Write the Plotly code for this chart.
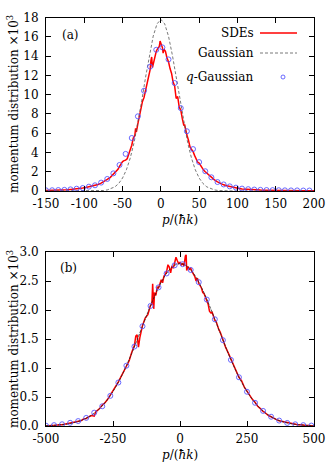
import plotly.graph_objects as go

# ---- panel (a) data (values x10^3) ----
sde_a_p = [-150, -146, -142, -138, -134, -130, -126, -122, -118, -114, -110, -106, -102, -98, -94, -90,
           -86, -82, -78, -74, -70, -66, -62, -60, -58, -56, -54, -52, -50, -48, -46, -44, -42, -40,
           -38, -36, -34, -33, -32, -30, -28, -26, -24, -22, -20, -18, -16, -14, -13, -12, -11, -10,
           -8, -6, -4, -2, -1, 0, 1, 2, 3, 4, 5, 6, 8, 10, 12, 14, 16, 18, 20, 22, 24, 26, 28, 30,
           31, 32, 34, 36, 38, 40, 42, 44, 46, 48, 50, 52, 54, 56, 58, 60, 62, 66, 70, 74, 78, 82,
           86, 90, 94, 98, 102, 106, 110, 114, 118, 122, 126, 130, 134, 138, 142, 146, 150, 154,
           158, 162, 166, 170, 174, 178, 182, 186, 190, 194, 198, 200]
sde_a = [0.06, 0.06, 0.07, 0.08, 0.09, 0.10, 0.12, 0.13, 0.16, 0.18, 0.22, 0.26, 0.30, 0.36, 0.43, 0.50,
         0.58, 0.68, 0.82, 0.98, 1.20, 1.42, 1.75, 1.90, 2.05, 2.25, 2.55, 2.80, 3.05, 3.15, 3.20, 3.35,
         3.85, 4.20, 4.75, 5.50, 5.75, 6.50, 6.10, 7.00, 7.90, 8.60, 9.30, 9.70, 10.50, 11.20, 12.00,
         12.60, 13.50, 13.90, 12.80, 13.20, 14.00, 14.50, 14.80, 15.00, 15.55, 15.40, 15.10, 14.90,
         14.30, 14.70, 14.60, 14.50, 13.80, 13.40, 12.70, 12.20, 11.30, 10.90, 9.60, 9.80, 8.70, 8.40,
         7.50, 6.80, 6.90, 6.40, 5.80, 5.30, 4.60, 4.30, 4.10, 3.70, 3.30, 3.00, 2.90, 2.60, 2.35,
         2.15, 2.00, 1.85, 1.70, 1.42, 1.15, 0.95, 0.78, 0.64, 0.54, 0.45, 0.38, 0.32, 0.26, 0.22,
         0.19, 0.16, 0.14, 0.12, 0.11, 0.10, 0.09, 0.08, 0.07, 0.06, 0.06, 0.05, 0.05, 0.05, 0.04,
         0.04, 0.04, 0.04, 0.03, 0.03, 0.03, 0.03, 0.03, 0.03]

gauss_a_p = [-150, -100, -95, -90, -85, -80, -75, -70, -65, -60, -55, -50, -45, -40, -35, -30, -25, -20,
             -15, -10, -5, 0, 5, 10, 15, 20, 25, 30, 35, 40, 45, 50, 55, 60, 65, 70, 75, 80, 85, 90,
             95, 100, 200]
gauss_a = [0.0, 0.0, 0.0, 0.0, 0.01, 0.02, 0.05, 0.11, 0.23, 0.43, 0.78, 1.35, 2.20, 3.41, 5.02, 7.03,
           9.33, 11.78, 14.11, 16.06, 17.34, 17.80, 17.34, 16.06, 14.11, 11.78, 9.33, 7.03, 5.02, 3.41,
           2.20, 1.35, 0.78, 0.43, 0.23, 0.11, 0.05, 0.02, 0.01, 0.0, 0.0, 0.0, 0.0]

qg_a_p = [-150, -142, -134, -126, -118, -110, -102, -94, -86, -78, -70, -62, -54, -46, -38, -30, -22,
          -14, -6, 2, 10, 18, 26, 34, 42, 50, 58, 66, 74, 82, 90, 98, 106, 114, 122, 130, 138, 146,
          154, 162, 170, 178, 186, 194]
qg_a = [0.07, 0.08, 0.10, 0.12, 0.17, 0.24, 0.31, 0.45, 0.59, 0.87, 1.25, 1.83, 2.70, 3.85, 5.50, 7.75,
        10.40, 12.90, 14.65, 14.90, 13.65, 11.20, 8.60, 6.20, 4.35, 3.00, 2.05, 1.42, 0.93, 0.68, 0.48,
        0.35, 0.25, 0.19, 0.15, 0.12, 0.10, 0.09, 0.08, 0.07, 0.06, 0.06, 0.05, 0.05]

# ---- panel (b) data (values x10^3) ----
sde_b_p = [-500, -490, -480, -470, -460, -450, -440, -430, -420, -410, -400, -390, -380, -370, -360,
           -350, -340, -330, -320, -315, -310, -300, -290, -280, -270, -260, -250, -240, -230, -220,
           -210, -200, -190, -180, -170, -165, -160, -155, -150, -140, -130, -120, -110, -105, -102,
           -98, -95, -90, -85, -80, -75, -70, -65, -60, -55, -50, -45, -40, -35, -30, -25, -20, -15,
           -10, -5, 0, 5, 10, 15, 20, 23, 25, 30, 35, 40, 45, 50, 55, 60, 65, 70, 75, 80, 85, 90, 95,
           100, 105, 110, 115, 120, 125, 130, 135, 140, 145, 150, 155, 160, 165, 170, 180, 190, 200,
           210, 215, 220, 230, 240, 250, 260, 270, 280, 290, 300, 310, 320, 330, 340, 350, 360, 370,
           380, 390, 400, 410, 420, 430, 440, 450, 460, 470, 480, 490, 500]
sde_b = [0.00, 0.01, 0.01, 0.01, 0.02, 0.02, 0.02, 0.03, 0.04, 0.04, 0.05, 0.07, 0.08, 0.09, 0.12,
         0.13, 0.16, 0.18, 0.17, 0.24, 0.26, 0.30, 0.36, 0.40, 0.46, 0.53, 0.60, 0.67, 0.76, 0.85,
         0.95, 1.05, 1.12, 1.27, 1.39, 1.55, 1.57, 1.36, 1.52, 1.73, 1.86, 1.92, 2.08, 2.10, 2.45,
         2.02, 2.30, 2.25, 2.40, 2.38, 2.45, 2.52, 2.47, 2.58, 2.62, 2.66, 2.78, 2.74, 2.64, 2.76,
         2.72, 2.80, 2.91, 2.85, 2.80, 2.82, 2.78, 2.80, 2.76, 2.93, 2.95, 2.68, 2.75, 2.70, 2.72,
         2.66, 2.62, 2.58, 2.50, 2.55, 2.46, 2.42, 2.38, 2.30, 2.28, 2.22, 2.17, 2.10, 1.98, 1.95,
         1.96, 1.88, 1.82, 1.80, 1.72, 1.66, 1.62, 1.55, 1.50, 1.45, 1.36, 1.26, 1.15, 1.05, 0.94,
         0.90, 0.84, 0.78, 0.67, 0.60, 0.52, 0.46, 0.41, 0.34, 0.30, 0.25, 0.22, 0.18, 0.16, 0.13,
         0.11, 0.09, 0.08, 0.06, 0.05, 0.04, 0.03, 0.03, 0.02, 0.02, 0.01, 0.01, 0.01, 0.00, 0.00]

gauss_b_p = [-500, -480, -460, -440, -420, -400, -380, -360, -340, -320, -300, -280, -260, -240, -220,
             -200, -180, -160, -140, -120, -100, -80, -60, -40, -20, 0, 20, 40, 60, 80, 100, 120, 140,
             160, 180, 200, 220, 240, 260, 280, 300, 320, 340, 360, 380, 400, 420, 440, 460, 480, 500]
gauss_b = [0.006, 0.009, 0.015, 0.023, 0.035, 0.053, 0.078, 0.112, 0.159, 0.221, 0.301, 0.401, 0.524,
           0.672, 0.843, 1.039, 1.253, 1.484, 1.722, 1.959, 2.185, 2.389, 2.561, 2.691, 2.772, 2.800,
           2.772, 2.691, 2.561, 2.389, 2.185, 1.959, 1.722, 1.484, 1.253, 1.039, 0.843, 0.672, 0.524,
           0.401, 0.301, 0.221, 0.159, 0.112, 0.078, 0.053, 0.035, 0.023, 0.015, 0.009, 0.006]

qg_b_p = [-500, -470, -440, -410, -380, -350, -320, -290, -260, -230, -200, -170, -140, -110, -80, -50,
          -20, 10, 40, 70, 100, 130, 160, 190, 220, 250, 280, 310, 340, 370, 400, 430, 460, 490]
qg_b = [0.005, 0.015, 0.03, 0.055, 0.085, 0.14, 0.23, 0.34, 0.52, 0.75, 1.04, 1.37, 1.72, 2.07, 2.39,
        2.63, 2.77, 2.79, 2.69, 2.48, 2.18, 1.84, 1.48, 1.14, 0.84, 0.59, 0.40, 0.26, 0.16, 0.094,
        0.053, 0.029, 0.015, 0.007]

xt_a = [-150, -100, -50, 0, 50, 100, 150, 200]
yt_a = [0, 2, 4, 6, 8, 10, 12, 14, 16, 18]
xt_b = [-500, -250, 0, 250, 500]
yt_b = [0.0, 0.5, 1.0, 1.5, 2.0, 2.5, 3.0]

FONT = "DejaVu Serif, Liberation Serif, serif"
RED = "#ff0000"
BLUE = "rgba(80,80,255,0.85)"
W, H = 327, 472


def px(x):
    return x / W


def py(y):
    return (H - y) / H


fig = go.Figure()

# panel (a)
fig.add_trace(go.Scatter(x=sde_a_p, y=sde_a, mode="lines", line=dict(color=RED, width=1.5),
                         xaxis="x", yaxis="y", showlegend=False))
fig.add_trace(go.Scatter(x=gauss_a_p, y=gauss_a, mode="lines",
                         line=dict(color="#555555", width=0.8, dash="3px,2px"),
                         xaxis="x", yaxis="y", showlegend=False))
fig.add_trace(go.Scatter(x=qg_a_p, y=qg_a, mode="markers",
                         marker=dict(symbol="circle-open", size=5, color=BLUE, line=dict(width=1)),
                         xaxis="x", yaxis="y", showlegend=False))

# panel (b)
fig.add_trace(go.Scatter(x=sde_b_p, y=sde_b, mode="lines", line=dict(color=RED, width=1.5),
                         xaxis="x2", yaxis="y2", showlegend=False))
fig.add_trace(go.Scatter(x=gauss_b_p, y=gauss_b, mode="lines", line_shape="spline",
                         line=dict(color="#222222", width=0.8, dash="3px,1px"),
                         xaxis="x2", yaxis="y2", showlegend=False))
fig.add_trace(go.Scatter(x=qg_b_p, y=qg_b, mode="markers",
                         marker=dict(symbol="circle-open", size=5, color=BLUE, line=dict(width=1)),
                         xaxis="x2", yaxis="y2", showlegend=False))

axis_style = dict(showline=True, mirror="ticks", linecolor="black", linewidth=1,
                  ticks="inside", ticklen=5, tickcolor="black", tickwidth=1,
                  showgrid=False, zeroline=False, automargin=False,
                  tickfont=dict(family=FONT, size=12, color="black"))

fig.update_layout(
    width=W, height=H,
    template="none",
    margin=dict(l=0, r=0, t=0, b=0),
    paper_bgcolor="white", plot_bgcolor="white",
    xaxis=dict(domain=[px(46), px(314)], anchor="y", range=[-150, 200], ticklabelstandoff=2,
               tickvals=xt_a, ticktext=[str(v) for v in xt_a], **axis_style),
    yaxis=dict(domain=[py(191), py(17.5)], anchor="x", range=[0, 18], ticklabelstandoff=4,
               tickvals=yt_a, ticktext=[str(v) for v in yt_a], **axis_style),
    xaxis2=dict(domain=[px(46), px(314)], anchor="y2", range=[-500, 500], ticklabelstandoff=2,
                tickvals=xt_b, ticktext=[str(v) for v in xt_b], **axis_style),
    yaxis2=dict(domain=[py(426), py(252)], anchor="x2", range=[0, 3.0], ticklabelstandoff=4,
                tickvals=yt_b, ticktext=["%.1f" % v for v in yt_b], **axis_style),
)

ann_font = dict(family=FONT, size=12, color="black")
annotations = [
    dict(text="momentum distribution ×10<sup>3</sup>", x=px(13), y=py(104), textangle=-90),
    dict(text="momentum distribution ×10<sup>3</sup>", x=px(13), y=py(339), textangle=-90),
    dict(text="<i>p</i>/(<i>ħk</i>)", x=px(180), y=py(220)),
    dict(text="<i>p</i>/(<i>ħk</i>)", x=px(180), y=py(455)),
    dict(text="(a)", x=px(70), y=py(35)),
    dict(text="(b)", x=px(68.5), y=py(268)),
]
for a in annotations:
    a.update(xref="paper", yref="paper", showarrow=False, font=ann_font,
             xanchor="center", yanchor="middle")
    fig.add_annotation(**a)

# legend (gnuplot style: text on the left, sample on the right)
legend_rows = [("SDEs", 33), ("Gaussian", 53), ("<i>q</i>-Gaussian", 77)]
for label, yy in legend_rows:
    fig.add_annotation(text=label, x=px(256), y=py(yy), xref="paper", yref="paper",
                       showarrow=False, font=ann_font, xanchor="right", yanchor="middle")
fig.add_shape(type="line", xref="paper", yref="paper", x0=px(260), x1=px(297), y0=py(33), y1=py(33),
              line=dict(color=RED, width=1.5))
fig.add_shape(type="line", xref="paper", yref="paper", x0=px(260), x1=px(297), y0=py(53), y1=py(53),
              line=dict(color="#555555", width=0.8, dash="3px,2px"))
fig.add_shape(type="circle", xref="paper", yref="paper",
              x0=px(281), x1=px(285), y0=py(79), y1=py(75),
              line=dict(color=BLUE, width=1))

# the page body has a default 8px margin; remove it so the figure sits at the window origin
fig.write_html("out.html", config={"displayModeBar": False},
               post_script="document.body.style.margin='0px';")
